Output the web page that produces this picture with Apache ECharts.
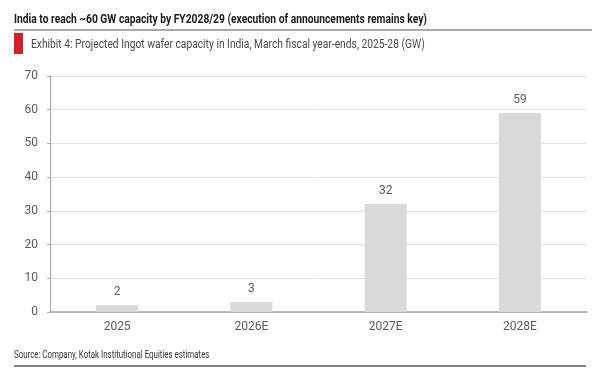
<!DOCTYPE html>
<html>
<head>
<meta charset="utf-8">
<script src="https://cdn.jsdelivr.net/npm/echarts@6/dist/echarts.min.js"></script>
<style>
  html, body { margin: 0; padding: 0; background: #fff; }
  #chart { width: 600px; height: 378px; }
</style>
</head>
<body>
<div id="chart"></div>
<script>
// data
var categories = ['2025', '2026E', '2027E', '2028E'];
var capacity = [2, 3, 32, 59];
var yTicks = [0, 10, 20, 30, 40, 50, 60, 70];

var headline = 'India to reach ~60 GW capacity by FY2028/29 (execution of announcements remains key)';
var exhibit = 'Exhibit 4: Projected Ingot wafer capacity in India, March fiscal year-ends, 2025-28 (GW)';
var source = 'Source: Company, Kotak Institutional Equities estimates';

// no condensed font installed, so squeeze Roboto horizontally
var squeeze = 0.79;

var myChart = echarts.init(document.getElementById('chart'));
var option = {
    backgroundColor: '#fff',
    animation: false,
    graphic: [
        {
            type: 'text', x: 14, y: 20, scaleX: squeeze,
            style: { text: headline, fill: '#1a1a1a', font: 'bold 13px Roboto, sans-serif', verticalAlign: 'middle' }
        },
        // line under heading
        { type: 'line', shape: { x1: 14, y1: 30, x2: 592, y2: 30 }, style: { stroke: '#555', lineWidth: 1 } },
        // red marker
        { type: 'rect', shape: { x: 14, y: 33, width: 9, height: 21 }, style: { fill: '#d0202a' } },
        {
            type: 'text', x: 31, y: 45, scaleX: squeeze,
            style: { text: exhibit, fill: '#4a4a4a', font: '13px Roboto, sans-serif', verticalAlign: 'middle' }
        },
        {
            type: 'text', x: 14, y: 355, scaleX: squeeze,
            style: { text: source, fill: '#333', font: '10px Roboto, sans-serif', verticalAlign: 'middle' }
        },
        // bottom rule
        { type: 'line', shape: { x1: 14, y1: 366, x2: 586, y2: 366 }, style: { stroke: '#555', lineWidth: 1.5 } }
    ],
    grid: { left: 50, right: 13, top: 76, bottom: 66, containLabel: false },
    xAxis: {
        type: 'category',
        data: categories,
        axisTick: { show: false },
        axisLine: { lineStyle: { color: '#a6a6a6', width: 1.5 } },
        axisLabel: { color: '#595959', fontSize: 12, margin: 9, fontFamily: 'Roboto, sans-serif' }
    },
    yAxis: {
        type: 'value',
        min: yTicks[0],
        max: yTicks[yTicks.length - 1],
        interval: 10,
        axisLine: { show: true, lineStyle: { color: '#a6a6a6', width: 1 } },
        axisTick: { show: true, length: 3, lineStyle: { color: '#a6a6a6' } },
        axisLabel: { color: '#595959', fontSize: 12, margin: 12, fontFamily: 'Roboto, sans-serif' },
        splitLine: { lineStyle: { color: '#e3e3e3', width: 1 } }
    },
    series: [{
        name: 'Capacity',
        type: 'bar',
        data: capacity,
        barWidth: 42,
        itemStyle: { color: '#d9d9d9' },
        label: {
            show: true,
            position: 'top',
            distance: 7,
            color: '#595959',
            fontSize: 12,
            fontFamily: 'Roboto, sans-serif'
        }
    }]
};
myChart.setOption(option);
window.addEventListener('resize', function () {
    myChart.resize();
});
</script>
</body>
</html>
